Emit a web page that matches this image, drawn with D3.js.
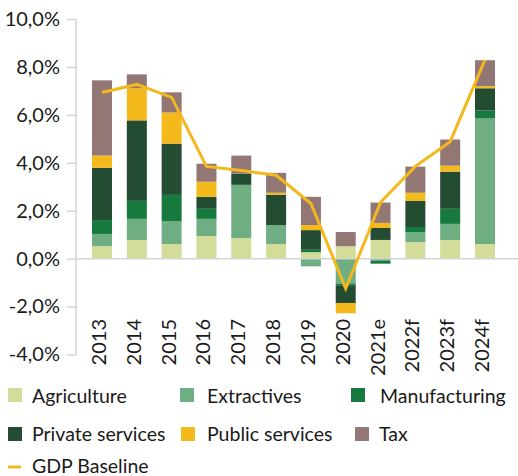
<!DOCTYPE html>
<html>
<head>
<meta charset="utf-8">
<script src="https://cdn.jsdelivr.net/npm/d3@7"></script>
<style>
  html, body { margin: 0; padding: 0; background: #ffffff; }
  svg { display: block; font-family: Lato, "Open Sans", sans-serif; }
</style>
</head>
<body>
<svg id="chart" width="518" height="476"></svg>
<script>
// Years on the category axis (e = estimate, f = forecast)
const years = ["2013", "2014", "2015", "2016", "2017", "2018", "2019", "2020", "2021e", "2022f", "2023f", "2024f"];

// Contributions to GDP growth, percentage points
const agriculture     = [0.52, 0.78, 0.61, 0.94, 0.86, 0.61, 0.27, 0.52, 0.78, 0.69, 0.78, 0.61];
const extractives     = [0.51, 0.88, 0.96, 0.72, 2.22, 0.79, -0.32, -1.04, -0.08, 0.42, 0.67, 5.24];
const manufacturing   = [0.58, 0.75, 1.09, 0.42, 0.00, 0.00, 0.10, -0.07, -0.13, 0.21, 0.63, 0.33];
const privateServices = [2.18, 3.36, 2.14, 0.50, 0.46, 1.26, 0.82, -0.74, 0.50, 1.09, 1.55, 0.93];
const publicServices  = [0.51, 1.34, 1.30, 0.63, 0.00, 0.09, 0.21, -0.43, 0.21, 0.34, 0.25, 0.09];
const tax             = [3.14, 0.58, 0.84, 0.75, 0.76, 0.83, 1.18, 0.59, 0.85, 1.09, 1.09, 1.08];

// Real GDP growth, %
const gdpBaseline = [6.93, 7.27, 6.73, 3.85, 3.68, 3.48, 2.30, -1.25, 2.35, 3.85, 4.88, 8.30];

// Value axis ticks
const yTicks = [-4, -2, 0, 2, 4, 6, 8, 10];

const seriesNames  = ["Agriculture", "Extractives", "Manufacturing", "Private services", "Public services", "Tax"];
const seriesValues = [agriculture, extractives, manufacturing, privateServices, publicServices, tax];
const seriesColors = ["#d3dc99", "#6fae83", "#167a3e", "#244c32", "#f4b91b", "#937775"];
const lineColor = "#f4b81c";

const svg = d3.select("#chart");

const x = d3.scaleBand()
  .domain(years)
  .range([84.6, 502.4])
  .paddingInner(0.4256)
  .paddingOuter(0.2128);

const y = d3.scaleLinear().domain([-4, 10]).range([354.5, 19]);

const locale = d3.formatLocale({ decimal: ",", thousands: ".", grouping: [3], currency: ["", "€"], minus: "-" });
const pct = v => locale.format(".1f")(v) + "%";

// Rows for the stack: one per year
const rows = years.map((yr, i) => {
  const r = { year: yr };
  seriesNames.forEach((n, k) => { r[n] = seriesValues[k][i]; });
  return r;
});

const stacked = d3.stack()
  .keys(seriesNames)
  .offset(d3.stackOffsetDiverging)(rows);

// Value axis
const axisG = svg.append("g")
  .attr("transform", "translate(76,0)")
  .call(d3.axisLeft(y).tickValues(yTicks).tickFormat(pct).tickSize(9).tickPadding(7));
axisG.select(".domain").attr("stroke", "#d4d4d4").attr("stroke-width", 1.5)
  .attr("d", `M0,${y(10)}V${y(-4)}`);
axisG.selectAll(".tick line").attr("stroke", "#d4d4d4").attr("stroke-width", 1.5);
axisG.selectAll(".tick text")
  .attr("fill", "#1a1a1a")
  .style("font-size", "20px")
  .style("font-family", "Lato, 'Open Sans', sans-serif");

// Stacked bars
svg.append("g")
  .selectAll("g")
  .data(stacked)
  .join("g")
  .attr("fill", (d, i) => seriesColors[i])
  .selectAll("rect")
  .data(d => d)
  .join("rect")
  .attr("x", d => x(d.data.year))
  .attr("width", x.bandwidth())
  .attr("y", d => y(Math.max(d[0], d[1])))
  .attr("height", d => Math.abs(y(d[0]) - y(d[1])));

// Zero line
svg.append("line")
  .attr("x1", 76).attr("x2", 518)
  .attr("y1", y(0)).attr("y2", y(0))
  .attr("stroke", "#d4d4d4")
  .attr("stroke-width", 1.5);

// GDP baseline line
svg.append("path")
  .datum(gdpBaseline)
  .attr("fill", "none")
  .attr("stroke", lineColor)
  .attr("stroke-width", 3)
  .attr("d", d3.line()
    .x((d, i) => x(years[i]) + x.bandwidth() / 2)
    .y(d => y(d)));

// Category labels, rotated
svg.append("g")
  .selectAll("text")
  .data(years)
  .join("text")
  .attr("transform", d => `translate(${x(d) + x.bandwidth() / 2 + 4},319) rotate(-90)`)
  .attr("text-anchor", "end")
  .attr("fill", "#1a1a1a")
  .style("font-size", "20px")
  .text(d => d);

// Legend
const legendItems = [
  { name: seriesNames[0], color: seriesColors[0], mx: 8,   tx: 32,  row: 0 },
  { name: seriesNames[1], color: seriesColors[1], mx: 180, tx: 207, row: 0 },
  { name: seriesNames[2], color: seriesColors[2], mx: 351, tx: 380, row: 0 },
  { name: seriesNames[3], color: seriesColors[3], mx: 8,   tx: 32,  row: 1 },
  { name: seriesNames[4], color: seriesColors[4], mx: 181, tx: 207, row: 1 },
  { name: seriesNames[5], color: seriesColors[5], mx: 355, tx: 379, row: 1 }
];
const rowTop = [388, 427];
const rowBase = [402.5, 441];

const legend = svg.append("g");
legend.selectAll("rect")
  .data(legendItems)
  .join("rect")
  .attr("x", d => d.mx)
  .attr("y", d => rowTop[d.row])
  .attr("width", 14)
  .attr("height", 14)
  .attr("fill", d => d.color);
legend.selectAll("text.item")
  .data(legendItems)
  .join("text")
  .attr("class", "item")
  .attr("x", d => d.tx)
  .attr("y", d => rowBase[d.row])
  .attr("fill", "#1a1a1a")
  .style("font-size", "19.5px")
  .text(d => d.name);

legend.append("line")
  .attr("x1", 8).attr("x2", 21)
  .attr("y1", 467).attr("y2", 467)
  .attr("stroke", lineColor)
  .attr("stroke-width", 3);
legend.append("text")
  .attr("x", 32)
  .attr("y", 472.5)
  .attr("fill", "#1a1a1a")
  .style("font-size", "19.5px")
  .text("GDP Baseline");
</script>
</body>
</html>
